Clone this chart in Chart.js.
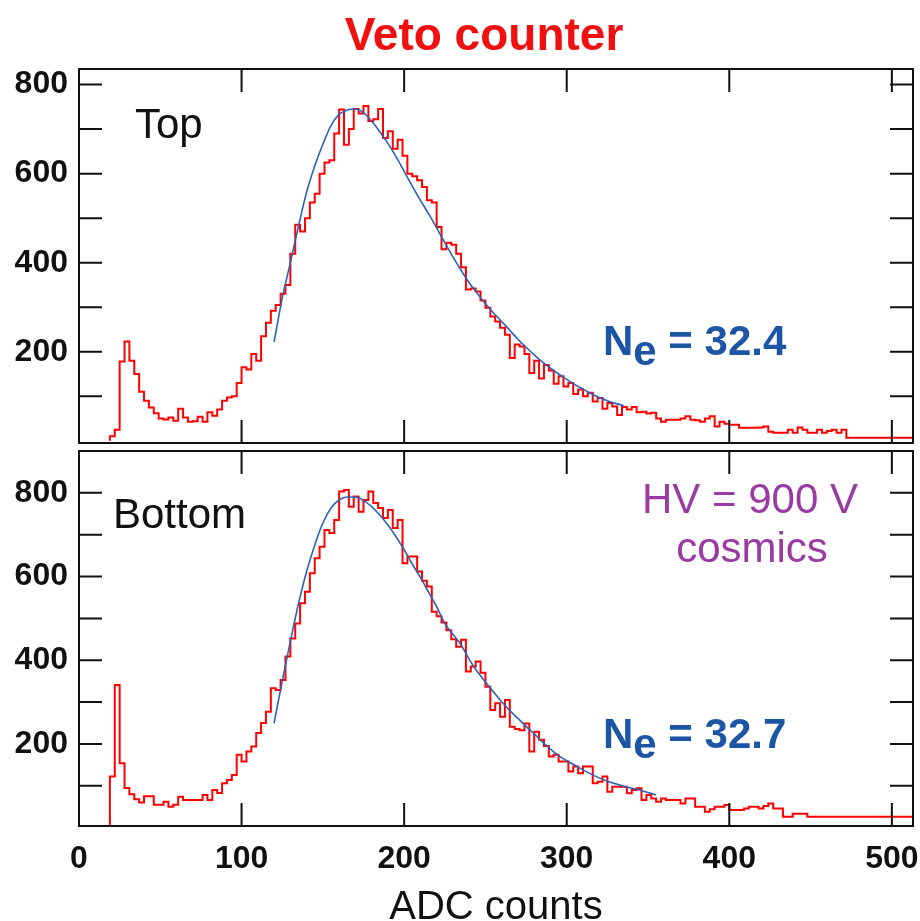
<!DOCTYPE html>
<html>
<head>
<meta charset="utf-8">
<title>Veto counter</title>
<script src="https://cdn.jsdelivr.net/npm/chart.js@4.4.1/dist/chart.umd.min.js"></script>
<style>
  html, body { margin: 0; padding: 0; background: #fff; }
  #wrap { position: relative; width: 920px; height: 921px; overflow: hidden; }
  canvas { position: absolute; left: 0; }
  #topChart { top: 0; }
  #bottomChart { top: 445px; }
</style>
</head>
<body>
<div id="wrap">
  <canvas id="topChart" width="920" height="450"></canvas>
  <canvas id="bottomChart" width="920" height="476"></canvas>
</div>
<script>
// histogram binning (ADC counts)
const binStart = 19;
const binWidth = 3;

// counts per bin
const topCounts = [
  10, 25, 178, 223, 180, 150, 110, 90, 75, 62,
  50, 48, 52, 45, 72, 52, 43, 44, 54, 43,
  64, 56, 70, 90, 97, 100, 130, 165, 160, 195,
  180, 235, 265, 292, 305, 330, 350, 420, 485, 470,
  500, 535, 555, 600, 625, 630, 690, 744, 665, 700,
  745, 735, 752, 718, 722, 745, 680, 695, 656, 676,
  640, 600, 594, 585, 570, 540, 535, 480, 430, 445,
  440, 420, 390, 340, 342, 335, 315, 299, 279, 268,
  254, 238, 186, 216, 212, 195, 152, 180, 140, 170,
  158, 128, 145, 122, 130, 105, 115, 100, 108, 88,
  96, 72, 85, 77, 58, 76, 70, 76, 64, 65,
  61, 63, 50, 43, 47, 47, 47, 50, 55, 47,
  46, 43, 50, 55, 32, 43, 38, 36, 36, 29,
  29, 29, 29, 30, 32, 20, 18, 18, 18, 25,
  18, 30, 25, 18, 18, 25, 18, 22, 25, 18,
  25, 7, 7, 7, 7, 7, 7, 7, 7, 7,
  7, 7, 7, 7, 7
];
const bottomCounts = [
  122, 341, 154, 95, 80, 68, 60, 75, 75, 55,
  55, 62, 50, 55, 74, 66, 66, 66, 66, 78,
  66, 90, 83, 106, 114, 126, 174, 158, 182, 194,
  226, 250, 277, 333, 329, 353, 409, 452, 488, 536,
  564, 608, 644, 671, 711, 704, 735, 803, 807, 767,
  791, 755, 783, 803, 776, 764, 740, 759, 716, 735,
  632, 648, 648, 612, 590, 576, 516, 505, 490, 472,
  450, 432, 449, 373, 385, 397, 370, 337, 281, 297,
  265, 305, 241, 236, 233, 249, 182, 229, 210, 195,
  170, 174, 158, 158, 134, 146, 130, 146, 146, 106,
  110, 122, 86, 98, 98, 98, 82, 90, 94, 66,
  78, 70, 62, 70, 66, 66, 66, 58, 70, 70,
  50, 50, 38, 44, 50, 50, 54, 42, 42, 42,
  46, 50, 50, 46, 52, 58, 46, 46, 26, 26,
  33, 33, 33, 26, 26, 26, 26, 26, 26, 26,
  26, 26, 26, 26, 26, 26, 26, 26, 26, 26,
  26, 26, 26, 26, 26
];

// fitted curves (blue)
const topFitAdc = [120, 125, 130, 135, 140, 145, 150, 155, 160, 165, 170, 175, 180, 185, 190, 195,
  200, 205, 210, 215, 220, 225, 230, 235, 240, 245, 250, 255, 260, 265, 270, 275,
  280, 285, 290, 295, 300, 305, 310, 315, 320, 325, 330, 335];
const topFit = [222, 320, 400, 482, 558, 617, 666, 708, 733, 743, 745, 737, 718, 694, 668, 638,
  605, 572, 540, 510, 478, 445, 413, 383, 355, 331, 308, 287, 268, 248, 228, 210,
  193, 177, 163, 150, 138, 126, 116, 106, 97, 90, 84, 79];
const bottomFitAdc = [120, 125, 130, 135, 140, 145, 150, 155, 160, 165, 170, 175, 180, 185, 190, 195,
  200, 205, 210, 215, 220, 225, 230, 235, 240, 245, 250, 255, 260, 265, 270, 275,
  280, 285, 290, 295, 300, 305, 310, 315, 320, 325, 330, 335, 340, 345, 350, 355];
const bottomFit = [250, 350, 445, 535, 612, 675, 728, 764, 783, 790, 790, 782, 767, 747, 723, 695,
  664, 630, 598, 563, 528, 488, 462, 437, 402, 373, 348, 324, 301, 280, 261, 242,
  224, 205, 188, 172, 160, 149, 138, 128, 119, 111, 105, 99, 94, 90, 84, 78];

// axes
const xTicks = [0, 100, 200, 300, 400, 500];
const yTicks = [200, 400, 600, 800];
const yMinorStep = 100;

const FONT = "'Liberation Sans', Arial, Helvetica, sans-serif";
const RED = '#ff0000';
const FIT_BLUE = '#2c62b8';
const LABEL_BLUE = '#1d55a6';
const PURPLE = '#9a3aa3';

function histPoints(counts) {
  const pts = [{x: binStart, y: 0}];
  counts.forEach((c, i) => pts.push({x: binStart + i * binWidth, y: c}));
  pts.push({x: binStart + counts.length * binWidth, y: counts[counts.length - 1]});
  return pts;
}

function fitPoints(adc, vals) {
  return adc.map((a, i) => ({x: a, y: vals[i]}));
}

// frame with inward ticks, plus the text labels
const framePlugin = {
  id: 'frame',
  afterDatasetsDraw(chart, args, opts) {
    const {ctx, chartArea: a} = chart;
    const x = chart.scales.x, y = chart.scales.y;
    const len = 23;
    ctx.save();
    ctx.strokeStyle = '#111';
    ctx.lineWidth = 2;
    ctx.strokeRect(a.left, a.top, a.right - a.left, a.bottom - a.top);
    ctx.beginPath();
    xTicks.forEach(v => {
      const px = x.getPixelForValue(v);
      if (px <= a.left + 1 || px >= a.right - 1) return;
      ctx.moveTo(px, a.top); ctx.lineTo(px, a.top + len);
      ctx.moveTo(px, a.bottom); ctx.lineTo(px, a.bottom - len);
    });
    for (let v = yMinorStep; v < y.max; v += yMinorStep) {
      if (v <= y.min) continue;
      const py = y.getPixelForValue(v);
      ctx.moveTo(a.left, py); ctx.lineTo(a.left + len, py);
      ctx.moveTo(a.right, py); ctx.lineTo(a.right - len, py);
    }
    ctx.stroke();

    ctx.textBaseline = 'alphabetic';
    (opts.texts || []).forEach(t => {
      ctx.fillStyle = t.color;
      ctx.font = t.font;
      if (t.runs) {
        let cx = t.x;
        ctx.textAlign = 'left';
        t.runs.forEach(r => {
          ctx.fillText(r.s, cx, t.y + (r.dy || 0));
          cx += ctx.measureText(r.s).width;
        });
      } else {
        ctx.textAlign = t.align || 'left';
        ctx.fillText(t.text, t.x, t.y);
      }
    });
    ctx.restore();
  }
};

const yFont = {family: FONT, size: 32, weight: 'bold'};

function yScale(min, max) {
  return {
    min: min, max: max,
    grid: {display: false, drawTicks: false},
    border: {display: false},
    afterBuildTicks: s => { s.ticks = yTicks.map(v => ({value: v})); },
    afterFit: s => { s.width = 79; s.paddingTop = 0; s.paddingBottom = 0; },
    ticks: {padding: 11, color: '#111', font: yFont}
  };
}

function datasets(counts, fitAdc, fit) {
  return [
    {data: fitPoints(fitAdc, fit), borderColor: FIT_BLUE, borderWidth: 1.6,
     pointRadius: 0, cubicInterpolationMode: 'monotone', fill: false},
    {data: histPoints(counts), borderColor: RED, borderWidth: 2,
     stepped: 'before', pointRadius: 0, fill: false}
  ];
}

const topChart = new Chart(document.getElementById('topChart'), {
  type: 'line',
  data: {datasets: datasets(topCounts, topFitAdc, topFit)},
  options: {
    responsive: false,
    animation: false,
    devicePixelRatio: 1,
    layout: {padding: {top: 69, right: 7, bottom: 7, left: 0}},
    scales: {
      x: {type: 'linear', min: 0, max: 513, display: false},
      y: yScale(-5, 835)
    },
    plugins: {
      legend: {display: false},
      tooltip: {enabled: false},
      frame: {
        texts: [
          {text: 'Veto counter', x: 484, y: 50, align: 'center', color: '#f01010', font: 'bold 46px ' + FONT},
          {text: 'Top', x: 135, y: 138, color: '#111', font: '42px ' + FONT},
          {runs: [{s: 'N'}, {s: 'e', dy: 10}, {s: ' = 32.4'}], x: 603, y: 355, color: LABEL_BLUE, font: 'bold 42px ' + FONT}
        ]
      }
    }
  },
  plugins: [framePlugin]
});

const bottomChart = new Chart(document.getElementById('bottomChart'), {
  type: 'line',
  data: {datasets: datasets(bottomCounts, bottomFitAdc, bottomFit)},
  options: {
    responsive: false,
    animation: false,
    devicePixelRatio: 1,
    layout: {padding: {top: 6, right: 7, bottom: 0, left: 0}},
    scales: {
      x: {
        type: 'linear', min: 0, max: 513,
        grid: {display: false, drawTicks: false},
        border: {display: false},
        afterBuildTicks: s => { s.ticks = xTicks.map(v => ({value: v})); },
        afterFit: s => { s.height = 95; s.paddingLeft = 0; s.paddingRight = 0; },
        ticks: {padding: 14, maxRotation: 0, autoSkip: false, color: '#111', font: yFont},
        title: {display: true, text: 'ADC counts', color: '#111', padding: 0,
                font: {family: FONT, size: 40, lineHeight: 0.65}}
      },
      y: yScale(4, 900)
    },
    plugins: {
      legend: {display: false},
      tooltip: {enabled: false},
      frame: {
        texts: [
          {text: 'Bottom', x: 113, y: 83, color: '#111', font: '42px ' + FONT},
          {text: 'HV = 900 V', x: 750, y: 68, align: 'center', color: PURPLE, font: '42px ' + FONT},
          {text: 'cosmics', x: 752, y: 117, align: 'center', color: PURPLE, font: '42px ' + FONT},
          {runs: [{s: 'N'}, {s: 'e', dy: 10}, {s: ' = 32.7'}], x: 603, y: 303, color: LABEL_BLUE, font: 'bold 42px ' + FONT}
        ]
      }
    }
  },
  plugins: [framePlugin]
});
</script>
</body>
</html>
